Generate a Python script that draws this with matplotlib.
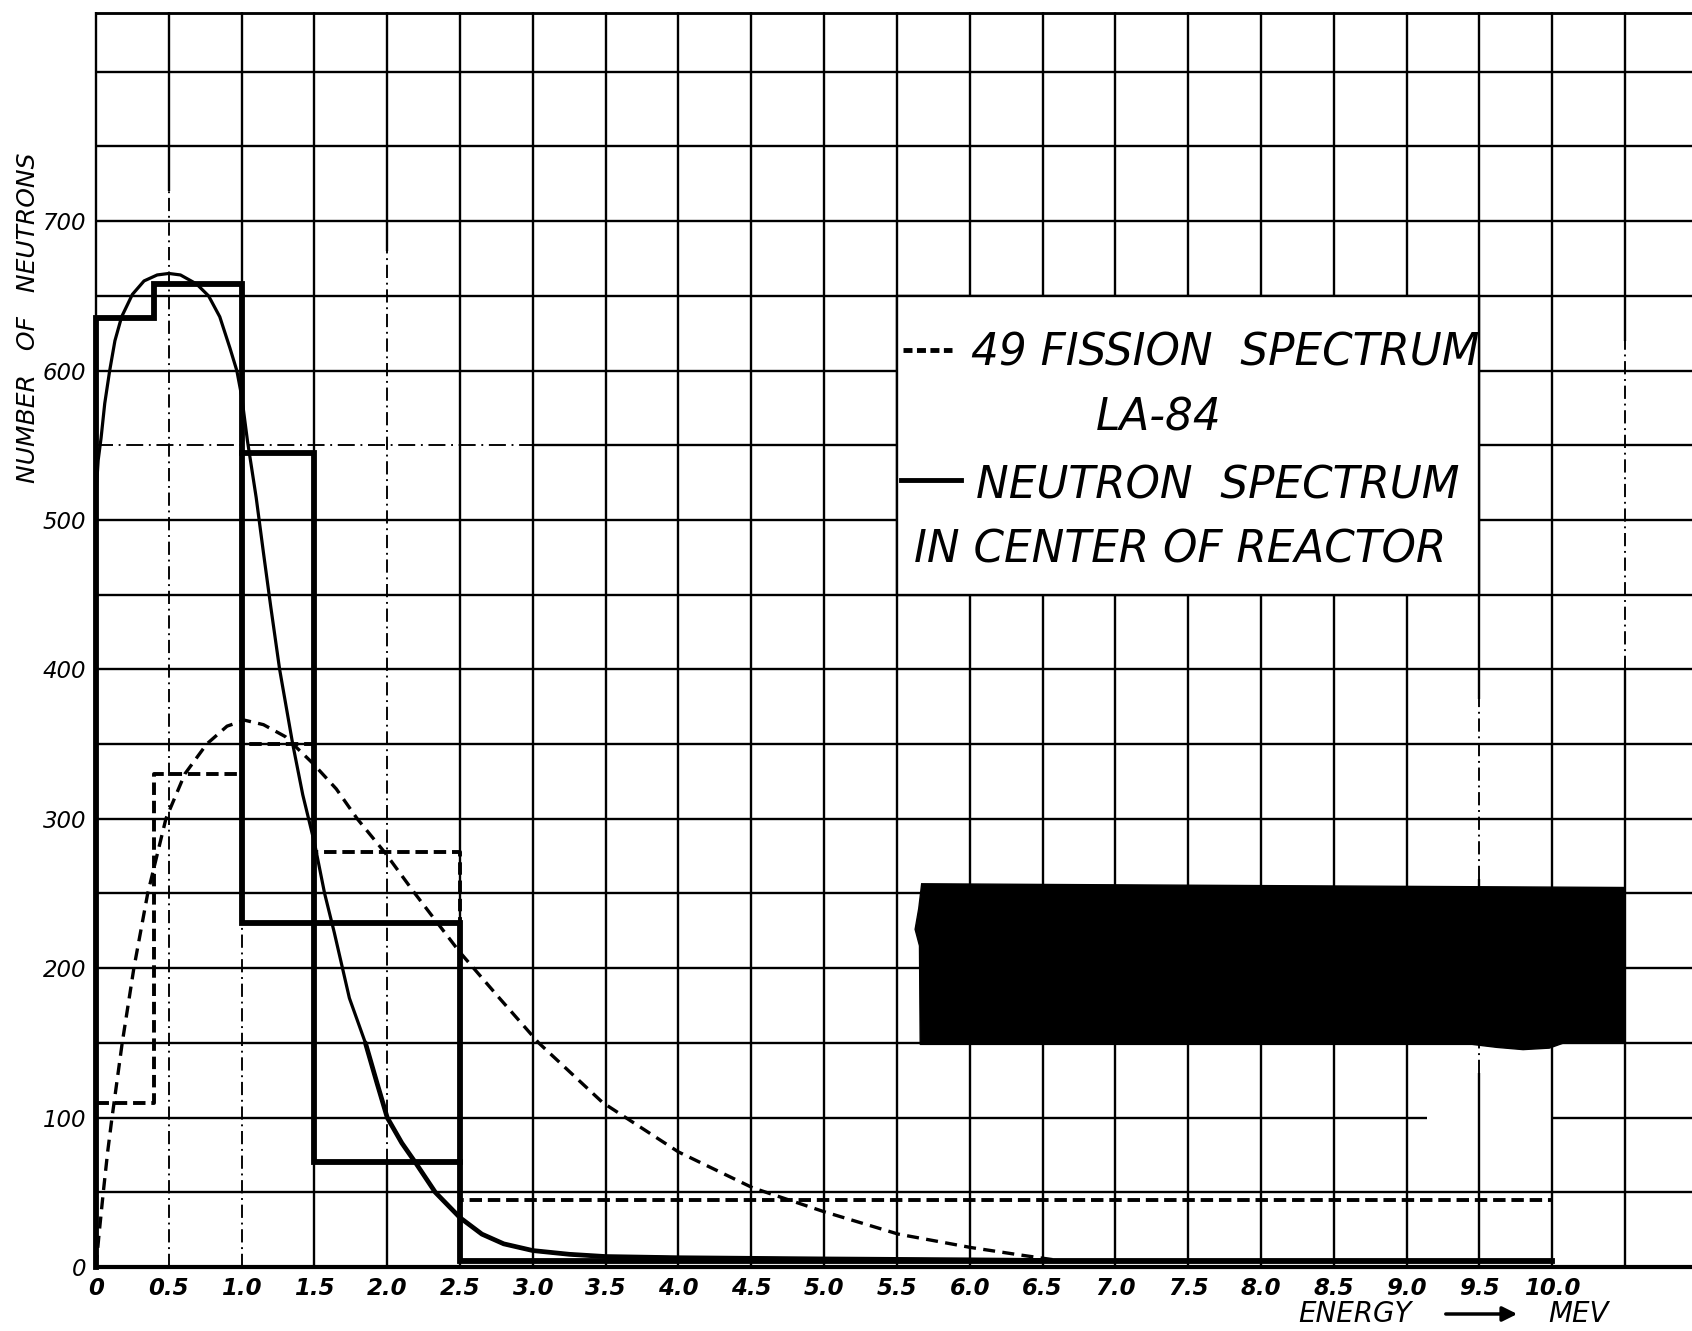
"""Neutron spectrum in the centre of the reactor vs. the 49 fission spectrum
(LA-84), redrawn from a scanned hand-lettered chart."""

import numpy as np
import matplotlib

matplotlib.use("Agg")
import matplotlib.pyplot as plt
from matplotlib import font_manager
from matplotlib.patches import Rectangle, Polygon

# ---------------------------------------------------------------- data
# group edges (MeV) shared by both histograms
bin_edges = [0.0, 0.4, 1.0, 1.5, 2.5, 10.0]
reactor_hist = [635, 658, 545, 70, 4]
fission_hist = [110, 330, 350, 278, 45]
# reactor groups 1.0-1.5 and 1.5-2.5 lumped together
merged_edges = [1.0, 2.5]
merged_reactor = 230

# smooth curves
reactor_x = [0.0, 0.005, 0.015, 0.035, 0.06, 0.094, 0.13, 0.176, 0.25, 0.33,
             0.42, 0.5, 0.58, 0.69, 0.773, 0.85, 0.92, 0.967, 1.0, 1.04,
             1.1, 1.15, 1.2, 1.261, 1.351, 1.42, 1.5, 1.57, 1.636, 1.74,
             1.85, 1.93, 2.0, 2.1, 2.2, 2.33, 2.5, 2.65, 2.8, 3.0,
             3.25, 3.5, 4.0, 5.0, 6.0, 6.5]
reactor_y = [510, 525, 540, 555, 578, 600, 620, 636, 651, 660,
             664, 665, 664, 658, 650, 636, 615, 600, 583, 553,
             515, 478, 442, 400, 350, 316, 284, 250, 224, 180,
             150, 123, 100, 83, 69, 50, 33, 22, 15.5, 11,
             8.5, 7, 6.2, 5.4, 4.8, 4.4]

fission_x = [0.0, 0.02, 0.05, 0.08, 0.11, 0.18, 0.26, 0.355, 0.48, 0.61,
             0.76, 0.9, 1.02, 1.15, 1.3, 1.49, 1.65, 1.794, 1.987, 2.19,
             2.496, 2.77, 3.04, 3.48, 4.0, 4.51, 5.0, 5.51, 6.01, 6.35, 6.6]
fission_y = [0, 21, 50, 77, 100, 150, 200, 250, 300, 330,
             350, 362, 366, 363, 355, 337, 320, 300, 277, 250,
             211, 180, 150, 110, 77, 53, 37, 22, 13, 8, 4.5]

x_ticks = np.arange(0, 10.01, 0.5)
x_tick_labels = ["0"] + [f"{v:.1f}" for v in x_ticks[1:]]
y_ticks = [0, 100, 200, 300, 400, 500, 600, 700]
y_tick_labels = [str(v) for v in y_ticks]

legend_lines = ["49 FISSION  SPECTRUM", "LA-84", "NEUTRON  SPECTRUM",
                "IN CENTER OF REACTOR"]

# ---------------------------------------------------------------- style
names = {f.name for f in font_manager.fontManager.ttflist}
NARROW = "Liberation Sans Narrow" in names
HAND = "Liberation Sans Narrow" if NARROW else "DejaVu Sans"
plt.rcParams["font.family"] = [HAND, "DejaVu Sans"]
LEG_FS = 36 if NARROW else 31.5
TICK_FS = 18 if NARROW else 16.5

W, H = 1692, 1331
X0, Y0, YTOP = 96, 1267, 12          # pixel positions of origin / top border
XMAX, YMAX = 10.96, 840
GRID_LW = 1.7
THICK = 4.2


def step(edges, vals):
    xs, ys = [edges[0]], [0]
    for i, v in enumerate(vals):
        xs += [edges[i], edges[i + 1]]
        ys += [v, v]
    return xs, ys


fig = plt.figure(figsize=(W / 100, H / 100), dpi=100)
ax = fig.add_axes([X0 / W, (H - Y0) / H, 1 - X0 / W, (Y0 - YTOP) / H])
ax.set_xlim(0, XMAX)
ax.set_ylim(0, YMAX)
for s in ax.spines.values():
    s.set_visible(False)

# ---------------------------------------------------------------- grid paper
dashdot = (0, (7, 2.5, 1, 2.5))
# vertical lines: x -> list of (y0, y1) parts drawn dash-dot
v_broken = {0.5: [(0, 720)], 1.0: [(0, 230)], 2.0: [(70, 680)],
            9.5: [(130, 150), (260, 380)], 10.5: [(400, 620)]}
for xv in np.arange(0.5, XMAX, 0.5):
    xv = round(xv, 1)
    y_prev = 0
    for a, b in v_broken.get(xv, []):
        if a > y_prev:
            ax.vlines(xv, y_prev, a, color="k", lw=GRID_LW, zorder=1)
        ax.vlines(xv, a, b, color="k", lw=GRID_LW * 0.8, ls=dashdot, zorder=1)
        y_prev = b
    ax.vlines(xv, y_prev, YMAX, color="k", lw=GRID_LW, zorder=1)

h_broken = {550: [(0, 3.0)], 100: [(9.14, 10.0)]}
for yv in range(50, 801, 50):
    parts = h_broken.get(yv, [])
    x_prev = 0
    for a, b in parts:
        if a > x_prev:
            ax.hlines(yv, x_prev, a, color="k", lw=GRID_LW, zorder=1)
        if yv == 550:
            ax.hlines(yv, a, b, color="k", lw=GRID_LW * 0.8, ls=(0, (9, 3, 1, 3)), zorder=1)
        x_prev = b
    ax.hlines(yv, x_prev, XMAX, color="k", lw=GRID_LW, zorder=1)

ax.hlines(YMAX - 0.5, 0, XMAX, color="k", lw=GRID_LW * 1.2, zorder=1, clip_on=False)
ax.vlines(0, 0, YMAX, color="k", lw=GRID_LW, zorder=1, clip_on=False)
ax.hlines(0, 0, XMAX, color="k", lw=3.0, zorder=4, clip_on=False)

# legend panel, blanked out of the grid
ax.add_patch(Rectangle((5.5, 450), 4.0, 200, facecolor="white",
                       edgecolor="k", lw=GRID_LW, zorder=2))

# ---------------------------------------------------------------- data marks
hx, hy = step(bin_edges, reactor_hist)
ax.plot(hx, hy, color="k", lw=THICK, solid_joinstyle="miter", zorder=4, clip_on=False)
ax.plot([merged_edges[0], merged_edges[0], merged_edges[1], merged_edges[1]],
        [reactor_hist[2], merged_reactor, merged_reactor, reactor_hist[3]],
        color="k", lw=THICK, solid_joinstyle="miter", zorder=4)

fx, fy = step(bin_edges, fission_hist)
ax.plot(fx, fy, color="k", lw=2.8, ls=(0, (3.2, 1.5)), zorder=3)

ax.plot(reactor_x, reactor_y, color="k", lw=2.3, zorder=4,
        solid_capstyle="round", solid_joinstyle="round")
# the inked tail of the curve is heavier on the scan
tail = reactor_x.index(1.85)
ax.plot(reactor_x[tail:], reactor_y[tail:], color="k", lw=3.4, zorder=4,
        solid_capstyle="round", solid_joinstyle="round")
ax.plot(fission_x, fission_y, color="k", lw=2.4, ls=(0, (3.6, 2.2)), zorder=3)

# censored block on the original scan
ax.add_patch(Polygon([(5.66, 149), (5.655, 215), (5.625, 226), (5.65, 240),
                      (5.67, 256.5), (6.6, 256), (10.5, 254), (10.5, 150),
                      (10.08, 150), (9.98, 146.5), (9.8, 145.5), (9.62, 147),
                      (9.45, 149)],
                     closed=True, facecolor="k", edgecolor="k", zorder=6))

# ---------------------------------------------------------------- legend text
ax.plot([5.54, 5.88], [614, 614], color="k", lw=3.5, ls=(0, (1.85, 0.92)), zorder=3)
ax.text(6.01, 612, legend_lines[0], fontsize=LEG_FS, style="italic",
        ha="left", va="center", zorder=3)
ax.text(7.3, 568, legend_lines[1], fontsize=LEG_FS, style="italic",
        ha="center", va="center", zorder=3)
ax.plot([5.53, 5.94], [527, 527], color="k", lw=3.5, zorder=3)
ax.text(6.04, 523, legend_lines[2], fontsize=LEG_FS, style="italic",
        ha="left", va="center", zorder=3)
ax.text(5.62, 480, legend_lines[3], fontsize=LEG_FS, style="italic",
        ha="left", va="center", zorder=3)

# ---------------------------------------------------------------- axes text
ax.set_xticks(x_ticks, x_tick_labels)
ax.set_yticks(y_ticks, y_tick_labels)
ax.tick_params(length=0)
ax.tick_params(axis="x", pad=7)
ax.tick_params(axis="y", pad=7)
for lab in ax.get_xticklabels():
    lab.set_fontsize(TICK_FS)
    lab.set_fontstyle("italic")
    lab.set_fontweight("bold")
for lab in ax.get_yticklabels():
    lab.set_fontsize(TICK_FS)
    lab.set_fontstyle("italic")

fig.text(28 / W, 1 - 318 / H, "NUMBER   OF   NEUTRONS", rotation=90,
         fontsize=18, style="italic", ha="center", va="center")

ty = 1 - 1314 / H
fig.text(1298 / W, ty, "ENERGY", fontsize=20, style="italic", ha="left", va="center")
ax.annotate("", xy=(1520 / W, ty), xytext=(1443 / W, ty), xycoords="figure fraction",
            textcoords="figure fraction",
            arrowprops=dict(arrowstyle="-|>", lw=2.5, color="k", mutation_scale=22))
fig.text(1548 / W, ty, "MEV", fontsize=20, style="italic", ha="left", va="center")

fig.savefig("out.png", dpi=100, facecolor="white")
